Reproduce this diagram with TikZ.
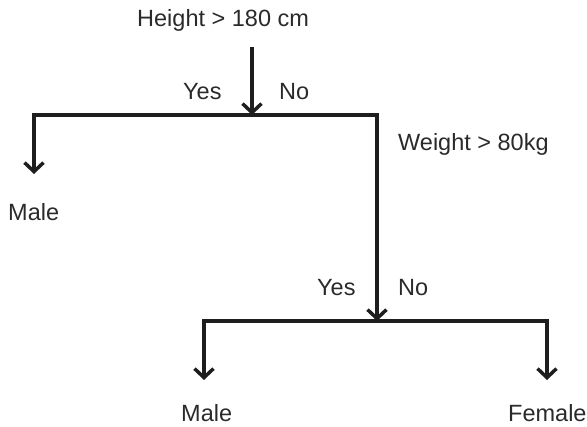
\documentclass[tikz,border=0pt]{standalone}
\usepackage{fontspec}
\setmainfont{Liberation Sans}
\usetikzlibrary{arrows.meta}
\definecolor{ink}{HTML}{1E1E1E}
\definecolor{txt}{HTML}{2A2A2A}
\tikzset{
  label/.style={anchor=base west, inner sep=0pt, text=txt,
    font=\fontsize{23.5}{28}\selectfont},
  branch/.style={draw=ink, line width=3.5pt, line join=miter,
    -{Straight Barb[length=9pt,width=19pt,line width=3.5pt]}},
}
\begin{document}
\begin{tikzpicture}[x=1pt,y=-1pt]
\useasboundingbox (0,0) rectangle (587,427);
% questions and answers
\node[label] (q1) at (137,27) {Height > 180 cm};
\node[label] (y1) at (183,100) {Yes};
\node[label] (n1) at (279,100) {No};
\node[label] (m1) at (8,221) {Male};
\node[label] (q2) at (398,151) {Weight > 80kg};
\node[label] (y2) at (317,296) {Yes};
\node[label] (n2) at (398,296) {No};
\node[label] (m2) at (181,422) {Male};
\node[label] (f2) at (508,422) {Female};
% junction points
\coordinate (s1) at (252,47);
\coordinate (j1) at (252,115);
\coordinate (a1) at (34,174);
\coordinate (j2) at (377,321);
\coordinate (a2) at (204,380);
\coordinate (a3) at (547,380);
% first split
\draw[branch] (s1) -- (j1);
\draw[branch] (j1) -| (a1);
\draw[branch] (j1) -| (j2);
% second split
\draw[branch] (j2) -| (a2);
\draw[branch] (j2) -| (a3);
\end{tikzpicture}
\end{document}
